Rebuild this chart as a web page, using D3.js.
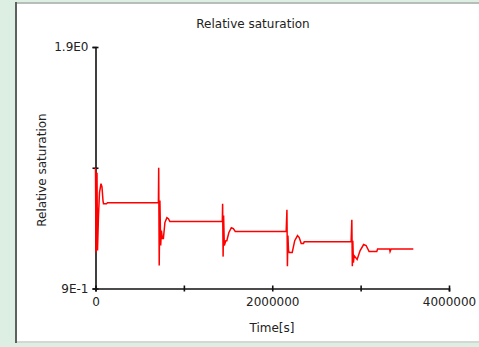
<!DOCTYPE html>
<html>
<head>
<meta charset="utf-8">
<script src="https://cdn.jsdelivr.net/npm/d3@7"></script>
<style>
  html, body { margin: 0; padding: 0; background: #ddefe3; }
  svg { display: block; }
  text { font-family: "DejaVu Sans", Verdana, sans-serif; fill: #222; }
</style>
</head>
<body>
<svg id="chart" width="479" height="347"></svg>
<script>
// Relative saturation over time (seconds)
const timeS = [
  0, 5650, 16950, 22600, 33900, 45200, 62100, 73400, 84700, 90400, 124300, 135600, 711800,
  715200, 720900, 728800, 737800, 745700, 757000, 768300, 785300, 807900, 824800, 841800, 1435000,
  1438400, 1444000, 1449700, 1457600, 1474600, 1485900, 1508500, 1536700, 1559300, 1581900, 2157400,
  2166100, 2171700, 2177400, 2184200, 2192100, 2226000, 2254200, 2285900, 2305100, 2327700, 2353700, 2361600, 2892500,
  2900500, 2906100, 2911800, 2918600, 2926500, 2960400, 2994300, 3033900, 3062100, 3096000, 3183000, 3192100,
  3327600, 3333200, 3344500, 3596500
];
const saturation = [
  1.400, 1.049, 1.379, 1.057, 1.202, 1.297, 1.334, 1.321, 1.264, 1.251, 1.251, 1.255, 1.255,
  1.400, 0.995, 1.264, 1.078, 1.140, 1.107, 1.107, 1.173, 1.193, 1.189, 1.177, 1.177,
  1.251, 1.032, 1.202, 1.078, 1.098, 1.098, 1.131, 1.152, 1.148, 1.136, 1.136,
  1.226, 0.992, 1.119, 1.057, 1.049, 1.049, 1.098, 1.119, 1.111, 1.086, 1.086, 1.094, 1.094,
  1.185, 0.992, 1.098, 1.007, 1.036, 1.020, 1.057, 1.082, 1.078, 1.053, 1.053, 1.064,
  1.064, 1.053, 1.064, 1.064
];
const xTicks = [0, 1000000, 2000000, 3000000, 4000000];
const xTickLabels = ["0", "", "2000000", "", "4000000"];
const yTicks = [0.9, 1.4, 1.9];
const yTickLabels = ["9E-1", "", "1.9E0"];

const svg = d3.select("#chart");

// panel
svg.append("rect").attr("x", 16).attr("y", 4).attr("width", 463).attr("height", 338).attr("fill", "#fff");
svg.append("rect").attr("x", 16).attr("y", 2).attr("width", 463).attr("height", 2).attr("fill", "#b8bdb9");
svg.append("rect").attr("x", 17).attr("y", 341).attr("width", 462).attr("height", 2).attr("fill", "#d4d8d5");
svg.append("rect").attr("x", 15).attr("y", 2).attr("width", 2).attr("height", 341).attr("fill", "#5e625f");

const x = d3.scaleLinear().domain([0, 4000000]).range([95.5, 449]);
const y = d3.scaleLinear().domain([0.9, 1.9]).range([288.5, 47]);

// title
svg.append("text").attr("x", 253).attr("y", 28).attr("text-anchor", "middle")
  .style("font-size", "12px").text("Relative saturation");

// x axis
const xAxis = d3.axisBottom(x).tickValues(xTicks)
  .tickFormat((d, i) => xTickLabels[i]).tickSize(3).tickPadding(6);
const gx = svg.append("g").attr("transform", `translate(0,${y(0.9)})`).call(xAxis);
gx.select(".domain").attr("stroke", "#111").attr("stroke-width", 1.6);
gx.selectAll(".tick line").attr("y1", -3).attr("y2", 3).attr("stroke", "#111").attr("stroke-width", 1.6);
gx.selectAll(".tick text").style("font-size", "12px").style("font-family", "DejaVu Sans").attr("fill", "#222");

// y axis
const yAxis = d3.axisLeft(y).tickValues(yTicks)
  .tickFormat((d, i) => yTickLabels[i]).tickSize(3).tickPadding(4);
const gy = svg.append("g").attr("transform", `translate(${x(0)},0)`).call(yAxis);
gy.select(".domain").attr("stroke", "#111").attr("stroke-width", 1.6);
gy.selectAll(".tick line").attr("x1", -3).attr("x2", 3).attr("stroke", "#111").attr("stroke-width", 1.6);
gy.selectAll(".tick text").style("font-size", "12px").style("font-family", "DejaVu Sans").attr("fill", "#222");

// axis titles
svg.append("text").attr("x", 272).attr("y", 332).attr("text-anchor", "middle")
  .style("font-size", "12px").text("Time[s]");
svg.append("text").attr("transform", "translate(46,170) rotate(-90)").attr("text-anchor", "middle")
  .style("font-size", "12px").text("Relative saturation");

// series
const pts = timeS.map((t, i) => [t, saturation[i]]);
const line = d3.line().x(d => x(d[0])).y(d => y(d[1]));
svg.append("path").datum(pts).attr("d", line)
  .attr("fill", "none").attr("stroke", "#ff0000").attr("stroke-width", 1.5)
  .attr("stroke-linejoin", "miter");
</script>
</body>
</html>
